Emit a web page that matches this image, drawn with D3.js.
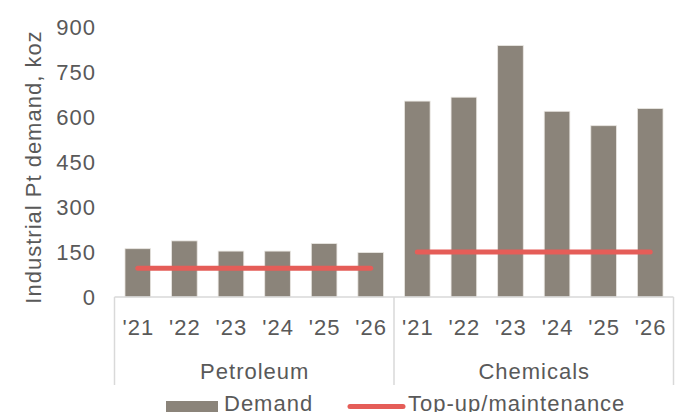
<!DOCTYPE html>
<html><head><meta charset="utf-8">
<script src="https://cdn.jsdelivr.net/npm/d3@7"></script>
<style>body{margin:0;background:#fff;} svg{display:block;} text{letter-spacing:1px;}</style>
</head><body>
<svg id="c" width="676" height="412"></svg>
<script>
const groups = ["Petroleum", "Chemicals"];
const years = ["'21", "'22", "'23", "'24", "'25", "'26"];
const petroleumDemand = [161, 187, 153, 153, 178, 148];
const chemicalsDemand = [653, 666, 838, 619, 571, 628];
const topUp = [96, 150];
const yTicks = [0, 150, 300, 450, 600, 750, 900];

(function () {
const seriesByGroup = [petroleumDemand, chemicalsDemand];
const rows = [];
groups.forEach((g, gi) => years.forEach((yr, yi) => rows.push({key: g + yr, group: g, year: yr, value: seriesByGroup[gi][yi]})));

const svg = d3.select("#c");
const mLeft = 114.5, mRight = 673.5, mTop = 27, mBottom = 297;
const font = "'Liberation Sans', Arial, sans-serif";
const textCol = "#595959", gridCol = "#d9d9d9";

const x = d3.scaleBand().domain(rows.map(d => d.key)).range([mLeft, mRight]).paddingInner(0.45).paddingOuter(0.225);
const y = d3.scaleLinear().domain([0, 900]).range([mBottom, mTop]);

// y tick labels
const yAxis = d3.axisLeft(y).tickValues(yTicks).tickSize(0).tickPadding(0);
const ya = svg.append("g").attr("transform", `translate(${96},0)`).call(yAxis);
ya.select(".domain").remove();
ya.selectAll("text").attr("font-family", font).attr("font-size", 22).attr("fill", textCol).attr("dy", "0.36em");

// y title
svg.append("text").attr("transform", `translate(41,${(mTop+mBottom)/2+5}) rotate(-90)`)
  .attr("text-anchor", "middle").attr("font-family", font).attr("font-size", 22).attr("fill", textCol)
  .text("Industrial Pt demand, koz");

// bars
svg.append("g").selectAll("rect").data(rows).join("rect")
  .attr("x", d => x(d.key)).attr("width", x.bandwidth())
  .attr("y", d => y(d.value)).attr("height", d => y(0) - y(d.value))
  .attr("fill", "#8b847a").attr("stroke", "#e9e6e1").attr("stroke-width", 0.8);

// top-up lines
groups.forEach((g, gi) => {
  const x0 = x(g + years[0]) + x.bandwidth()/2;
  const x1 = x(g + years[years.length-1]) + x.bandwidth()/2;
  svg.append("line").attr("x1", x0).attr("x2", x1).attr("y1", y(topUp[gi])).attr("y2", y(topUp[gi]))
    .attr("stroke", "#e55d58").attr("stroke-width", 5).attr("stroke-linecap", "round");
});

// x axis frame
const axisG = svg.append("g");
axisG.append("line").attr("x1", mLeft).attr("x2", mRight).attr("y1", mBottom).attr("y2", mBottom)
  .attr("stroke", gridCol).attr("stroke-width", 1.5);
const groupEdges = [mLeft,
  (x(groups[0] + years[5]) + x.bandwidth() + x(groups[1] + years[0]))/2,
  mRight];
groupEdges.forEach(e => axisG.append("line").attr("x1", e).attr("x2", e).attr("y1", mBottom).attr("y2", 385)
  .attr("stroke", gridCol).attr("stroke-width", 1.5));

// year labels
svg.append("g").selectAll("text").data(rows).join("text")
  .attr("x", d => x(d.key) + x.bandwidth()/2 + 0.5).attr("y", 335)
  .attr("text-anchor", "middle").attr("font-family", font).attr("font-size", 22).attr("fill", textCol)
  .text(d => d.year);

// group labels
groups.forEach((g, gi) => {
  svg.append("text").attr("x", (groupEdges[gi] + groupEdges[gi+1])/2 + 0.5).attr("y", 379)
    .attr("text-anchor", "middle").attr("font-family", font).attr("font-size", 22).attr("fill", textCol).text(g);
});

// legend
const lg = svg.append("g");
lg.append("rect").attr("x", 166).attr("y", 401).attr("width", 52).attr("height", 12).attr("fill", "#8b847a");
lg.append("text").attr("x", 224).attr("y", 411).attr("font-family", font).attr("font-size", 22).attr("fill", textCol).text("Demand");
lg.append("line").attr("x1", 350).attr("x2", 403).attr("y1", 406.5).attr("y2", 406.5)
  .attr("stroke", "#e55d58").attr("stroke-width", 5).attr("stroke-linecap", "round");
lg.append("text").attr("x", 408).attr("y", 411).attr("font-family", font).attr("font-size", 22).attr("fill", textCol).text("Top-up/maintenance");
})();
</script>
</body></html>
